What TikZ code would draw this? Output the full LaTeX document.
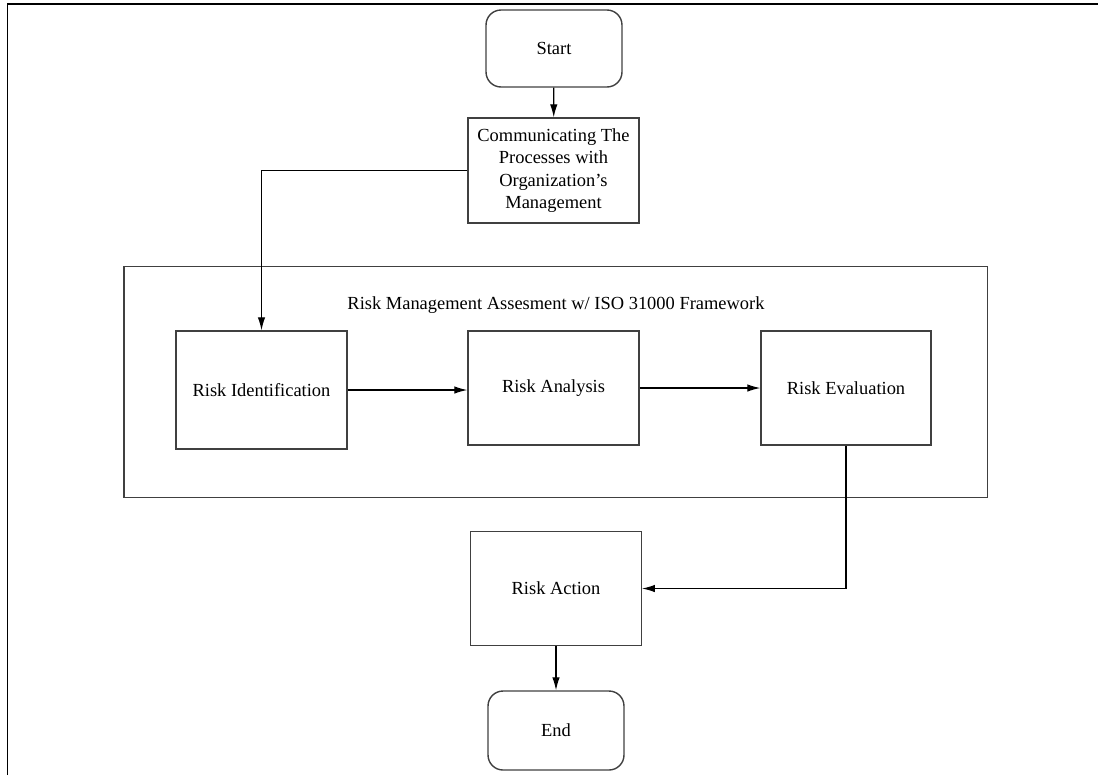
\documentclass[tikz,border=0pt]{standalone}
\usepackage{fontspec}
\setmainfont{Liberation Serif}
\usepackage{tikz}
\usetikzlibrary{arrows.meta,positioning,calc}

\tikzset{
  box/.style={draw=black!75,line width=0.8pt,align=center,inner sep=0pt,
    font=\fontsize{10.5}{12.8}\selectfont},
  term/.style={box,rounded corners=0.3cm},
  link/.style={line width=0.7pt,-{Latex[length=2.6mm,width=1.5mm]}}
}

\begin{document}
\begin{tikzpicture}[x=0.02cm,y=-0.02cm]
  \useasboundingbox (0,0) rectangle (1098,775);
  \draw[line width=1.1pt] (7.5,775) -- (7.5,4) -- (1098,4); % Rahmen: nur oben und links
  \node[term,minimum width=2.72cm,minimum height=1.54cm] (start) at (554,48.5){Start};
  \node[box,minimum width=3.42cm,minimum height=2.1cm] (comm) at (553.5,170.5)
    {Communicating The\\Processes with\\Organization's\\Management};
  \node[box,minimum width=17.27cm,minimum height=4.62cm] (rma) at (555.75,382){};
  \node[font=\fontsize{10.5}{12.8}\selectfont] (title) at (556,305)
    {Risk Management Assesment w/ ISO 31000 Framework};
  \node[box,minimum width=3.42cm,minimum height=2.36cm] (ident) at (261.5,390){Risk Identification};
  \node[box,minimum width=3.42cm,minimum height=2.28cm] (anal) at (553.5,388){Risk Analysis};
  \node[box,minimum width=3.4cm,minimum height=2.28cm] (eval) at (846,388){Risk Evaluation};
  \node[box,minimum width=3.41cm,minimum height=2.28cm] (act) at (556,588.5){Risk Action};
  \node[term,minimum width=2.72cm,minimum height=1.58cm] (end) at (556,730.5){End};
  \draw[link] (start) -- (comm);
  \draw[link] (comm.west) -| (ident.north);
  \draw[link] (ident.east) -- (anal.west |- ident.east);
  \draw[link] (anal) -- (eval);
  \draw[link] (eval.south) |- (act.east);
  \draw[link] (act) -- (end);
\end{tikzpicture}
\end{document}
